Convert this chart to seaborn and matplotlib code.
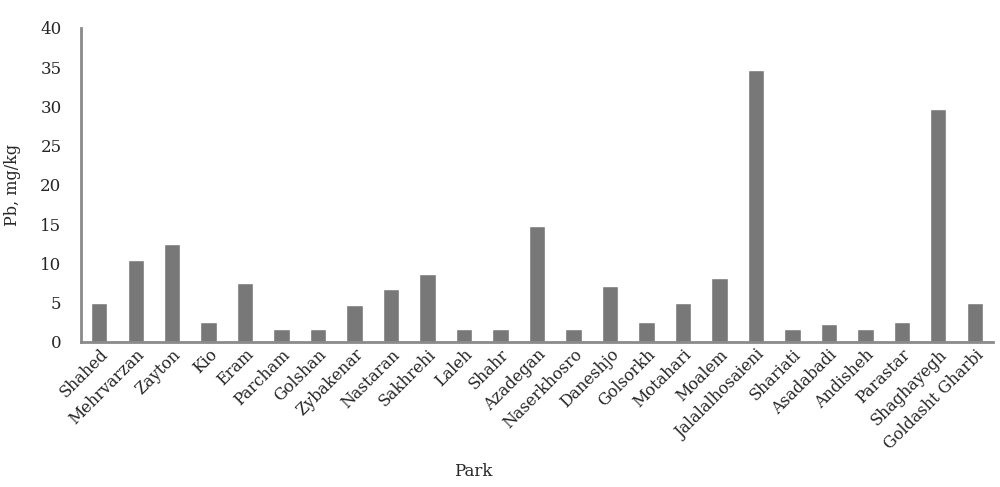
import matplotlib
matplotlib.use("Agg")
import matplotlib.pyplot as plt
import seaborn as sns
import pandas as pd

parks = ["Shahed", "Mehrvarzan", "Zayton", "Kio", "Eram", "Parcham", "Golshan",
         "Zybakenar", "Nastaran", "Sakhrehi", "Laleh", "Shahr", "Azadegan",
         "Naserkhosro", "Daneshjo", "Golsorkh", "Motahari", "Moalem",
         "Jalalalhosaieni", "Shariati", "Asadabadi", "Andisheh", "Parastar",
         "Shaghayegh", "Goldasht Gharbi"]
pb_values = [5.0, 10.4, 12.5, 2.5, 7.5, 1.7, 1.6, 4.7, 6.7, 8.7, 1.6, 1.7, 14.8,
             1.6, 7.1, 2.5, 5.0, 8.1, 34.6, 1.7, 2.3, 1.6, 2.5, 29.6, 5.0]
y_ticks = [0, 5, 10, 15, 20, 25, 30, 35, 40]

df = pd.DataFrame({"Park": parks, "Pb": pb_values})

sns.set_style("white")
plt.rcParams["font.family"] = ["DejaVu Serif"]

fig = plt.figure(figsize=(10, 4.87), dpi=100)
ax = fig.add_axes([0.081, 0.298, 0.912, 0.645])
sns.barplot(data=df, x="Park", y="Pb", color="#787878", saturation=1,
            width=0.45, ax=ax)
ax.set_xlim(-0.5, 24.5)
ax.set_ylim(0, 40)
ax.set_yticks(y_ticks)
ax.tick_params(axis="y", length=0, labelsize=12, pad=14)
ax.tick_params(axis="x", length=0, labelsize=11.5, pad=3)
for lbl in ax.get_xticklabels():
    lbl.set_rotation(45)
    lbl.set_ha("right")
    lbl.set_rotation_mode("anchor")
for s in ["top", "right"]:
    ax.spines[s].set_visible(False)
for s in ["left", "bottom"]:
    ax.spines[s].set_color("#8a8a8a")
    ax.spines[s].set_linewidth(2)
ax.set_ylabel("Pb, mg/kg", fontsize=11.5, labelpad=14)
ax.set_xlabel("Park", fontsize=12)
ax.xaxis.set_label_coords(0.43, -0.385)
fig.savefig("out.png", dpi=100)
